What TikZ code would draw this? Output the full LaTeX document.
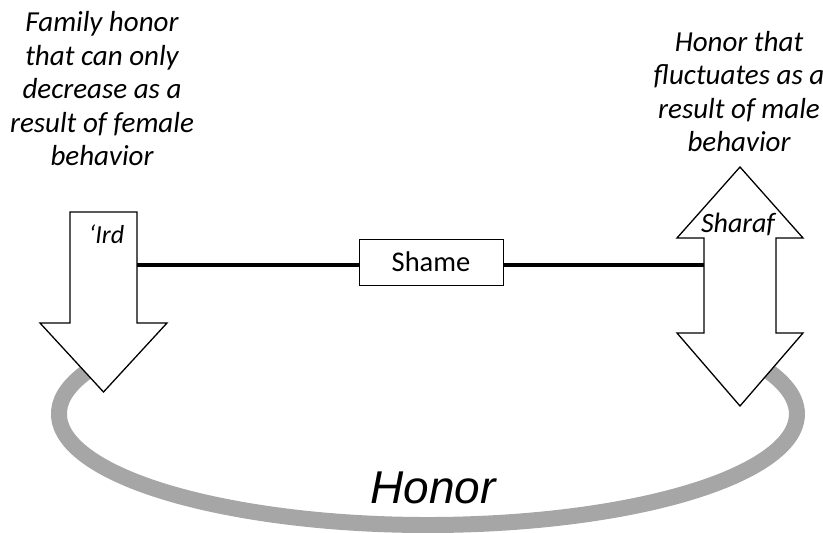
\documentclass[tikz,border=0pt]{standalone}
\usepackage{fontspec}
\setmainfont{Carlito}
\newfontfamily\arialfont{Liberation Sans}
\begin{document}
\begin{tikzpicture}[x=1pt,y=-1pt,
  bigarrow/.style={draw=black,fill=white,line width=1.3pt,line join=miter},
  ring/.style={draw={rgb,255:red,166;green,166;blue,166},line width=16pt},
  link/.style={draw=black,line width=4pt},
  caption/.style={font=\fontsize{29}{33.5}\selectfont\itshape,align=center,inner sep=0pt,anchor=base},
  tag/.style={font=\fontsize{28}{32}\selectfont\itshape,inner sep=0pt,anchor=base},
  shamebox/.style={draw=black,fill=white,line width=0.9pt,minimum width=144pt,minimum height=46pt,inner sep=0pt,font=\fontsize{28.5}{33}\selectfont}]
\useasboundingbox (0,0) rectangle (823,533);
% gray ring (honor)
\draw[ring] (108.4,358.5) arc[start angle=210,end angle=-30,x radius=369,y radius=111];
% 'Ird arrow (down)
\draw[bigarrow] (70,212) -- (137,212) -- (137,323) -- (167,323) -- (103.5,392) -- (40,323) -- (70,323) -- cycle;
% Sharaf double arrow
\draw[bigarrow] (740,167) -- (803,238) -- (776,238) -- (776,333) -- (803,333) -- (740,406) -- (677,333) -- (704,333) -- (704,238) -- (677,238) -- cycle;
\coordinate (irdR) at (137,265);
\coordinate (sharafL) at (704,265);
\node[shamebox] (shame) at (431,262) {Shame};
\draw[link] (irdR) -- (irdR -| shame.west);
\draw[link] (shame.east |- sharafL) -- (sharafL);
\node[tag,font=\fontsize{26}{30}\selectfont\itshape] (ird) at (106.5,243) {‘Ird};
\node[tag] (sharaf) at (738,232) {Sharaf};
\node[caption] (famtext) at (102,165.5) {Family honor\\that can only\\decrease as a\\result of female\\behavior};
\node[caption] (maletext) at (739,151.5) {Honor that\\fluctuates as a\\result of male\\behavior};
\node[inner sep=0pt,anchor=base,font=\fontsize{46}{52}\selectfont\arialfont\itshape] (honor) at (433,503) {Honor};
\end{tikzpicture}
\end{document}
